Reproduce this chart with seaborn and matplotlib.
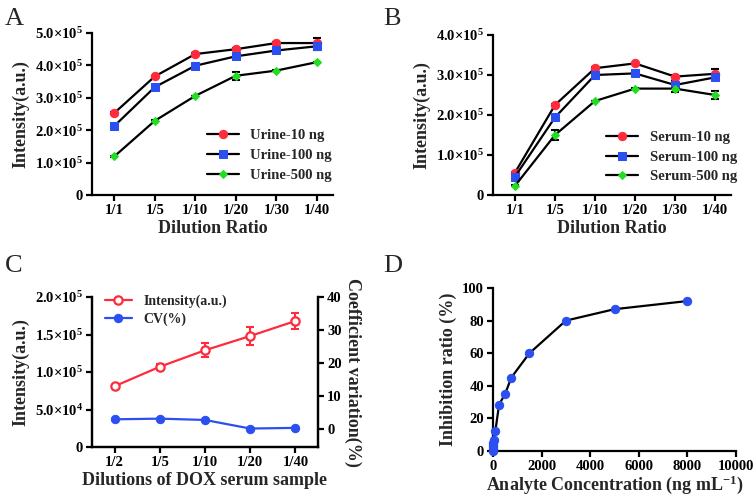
import numpy as np
import pandas as pd
import matplotlib
matplotlib.use("Agg")
import matplotlib.pyplot as plt
from matplotlib.ticker import FuncFormatter
import seaborn as sns

# Data
ratios_ab = ["1/1", "1/5", "1/10", "1/20", "1/30", "1/40"]

urine_10 = [2.53e5, 3.66e5, 4.35e5, 4.50e5, 4.69e5, 4.69e5]
urine_100 = [2.13e5, 3.33e5, 3.99e5, 4.28e5, 4.46e5, 4.59e5]
urine_500 = [1.19e5, 2.29e5, 3.06e5, 3.68e5, 3.84e5, 4.10e5]
urine_10_err = [0.02e5, 0.02e5, 0.02e5, 0.03e5, 0.02e5, 0.15e5]
urine_100_err = [0.02e5, 0.02e5, 0.02e5, 0.08e5, 0.02e5, 0.1e5]
urine_500_err = [0.01e5, 0.01e5, 0.01e5, 0.12e5, 0.02e5, 0.02e5]

serum_10 = [0.56e5, 2.25e5, 3.17e5, 3.29e5, 2.96e5, 3.03e5]
serum_100 = [0.46e5, 1.94e5, 3.00e5, 3.04e5, 2.75e5, 2.94e5]
serum_500 = [0.23e5, 1.50e5, 2.35e5, 2.66e5, 2.66e5, 2.50e5]
serum_10_err = [0.02e5, 0.02e5, 0.02e5, 0.02e5, 0.03e5, 0.12e5]
serum_100_err = [0.02e5, 0.02e5, 0.02e5, 0.02e5, 0.1e5, 0.03e5]
serum_500_err = [0.01e5, 0.12e5, 0.01e5, 0.01e5, 0.08e5, 0.1e5]

ratios_c = ["1/2", "1/5", "1/10", "1/20", "1/40"]
dox_intensity = [0.81e5, 1.07e5, 1.29e5, 1.48e5, 1.68e5]
dox_intensity_err = [0.02e5, 0.04e5, 0.095e5, 0.115e5, 0.11e5]
dox_cv = [2.9, 3.1, 2.7, 0.1, 0.3]

conc = [0, 5, 10, 20, 50, 100, 250, 500, 750, 1500, 3000, 5000, 8000]
inhibition = [0, 1.5, 3, 5, 7, 12.5, 28.5, 35, 45, 60, 80, 87, 92]

red = "#ff2a3c"
blue = "#2b4ff0"
green = "#22dd22"

sns.set_style("ticks")
plt.rcParams["font.family"] = ["Liberation Serif", "DejaVu Serif"]
plt.rcParams["font.weight"] = "bold"
plt.rcParams["axes.labelweight"] = "bold"
plt.rcParams["axes.linewidth"] = 1.6
plt.rcParams["xtick.major.width"] = 1.6
plt.rcParams["ytick.major.width"] = 1.6
plt.rcParams["xtick.major.size"] = 4
plt.rcParams["ytick.major.size"] = 4
plt.rcParams["xtick.major.pad"] = 2.5
plt.rcParams["ytick.major.pad"] = 2.5
plt.rcParams["xtick.color"] = "black"
plt.rcParams["ytick.color"] = "black"
plt.rcParams["axes.edgecolor"] = "black"
plt.rcParams["mathtext.fontset"] = "custom"
plt.rcParams["mathtext.rm"] = "Liberation Serif:bold"
plt.rcParams["mathtext.bf"] = "Liberation Serif:bold"
plt.rcParams["mathtext.default"] = "bf"


def sci_fmt(v, pos):
    if v == 0:
        return "0"
    e = int(np.floor(np.log10(abs(v))))
    m = v / 10 ** e
    return f"{m:.1f}" + r"$\times$" + "10" + f"$^{{{e}}}$"


fig = plt.figure(figsize=(7.56, 4.98), dpi=100)
W, H = 756, 498


def make_axes(l, r, t, b):
    return fig.add_axes([l / W, 1 - b / H, (r - l) / W, (b - t) / H])


def dilution_panel(ax, names, vals, errs, ymax, ystep, anchor):
    markers = ["o", "s", "D"]
    sizes = [6, 6, 4.5]
    colors = [red, blue, green]
    for name, v, e, m, ms, c in zip(names, vals, errs, markers, sizes, colors):
        df = pd.DataFrame({"ratio": ratios_ab, "val": v})
        sns.lineplot(data=df, x="ratio", y="val", ax=ax, color="black",
                     linewidth=1.6, marker=m, markersize=ms,
                     markerfacecolor=c, markeredgecolor=c, label=name,
                     sort=False, zorder=3)
        ax.errorbar(ratios_ab, v, yerr=e, fmt="none", ecolor="black",
                    elinewidth=1.5, capsize=3, capthick=1.5, zorder=2)
    ax.set_xlim(-0.55, 5.4)
    ax.set_ylim(0, ymax)
    ax.set_yticks(np.arange(0, ymax + 1, ystep))
    ax.yaxis.set_major_formatter(FuncFormatter(sci_fmt))
    ax.set_xlabel("Dilution Ratio", fontsize=13, labelpad=2)
    ax.set_ylabel("Intensity(a.u.)", fontsize=13)
    ax.tick_params(axis="y", labelsize=10.5)
    ax.tick_params(axis="x", labelsize=10.5)
    for lab in ax.get_xticklabels() + ax.get_yticklabels():
        lab.set_fontweight("bold")
    sns.despine(ax=ax)
    ax.legend(loc="lower right", bbox_to_anchor=anchor, frameon=False,
              handlelength=2.2, labelspacing=0.45,
              prop={"weight": "bold", "size": 10.5})


# Panel A
axA = make_axes(92, 333, 33, 195)
dilution_panel(axA, ["Urine-10 ng", "Urine-100 ng", "Urine-500 ng"],
               [urine_10, urine_100, urine_500],
               [urine_10_err, urine_100_err, urine_500_err], 5e5, 1e5,
               (1.05, 0.0))

# Panel B
axB = make_axes(493, 731, 35, 195)
dilution_panel(axB, ["Serum-10 ng", "Serum-100 ng", "Serum-500 ng"],
               [serum_10, serum_100, serum_500],
               [serum_10_err, serum_100_err, serum_500_err], 4e5, 1e5,
               (1.08, -0.01))

# Panel C
axC = make_axes(92, 318, 297, 447)
axC2 = axC.twinx()
df_c = pd.DataFrame({"ratio": ratios_c, "intensity": dox_intensity, "cv": dox_cv})
sns.lineplot(data=df_c, x="ratio", y="intensity", ax=axC, color=red,
             linewidth=1.6, marker="o", markersize=6, markerfacecolor="white",
             markeredgecolor=red, markeredgewidth=1.6, sort=False,
             label="Intensity(a.u.)", zorder=3)
axC.errorbar(ratios_c, dox_intensity, yerr=dox_intensity_err, fmt="none",
             ecolor=red, elinewidth=1.5, capsize=3, capthick=1.5, zorder=2)
sns.lineplot(data=df_c, x="ratio", y="cv", ax=axC2, color=blue,
             linewidth=1.6, marker="o", markersize=6, markerfacecolor=blue,
             markeredgecolor=blue, sort=False, label="CV(%)")
axC.set_xlim(-0.5, 4.5)
axC.set_ylim(0, 2e5)
axC.set_yticks(np.arange(0, 2.01e5, 0.5e5))
axC.yaxis.set_major_formatter(FuncFormatter(sci_fmt))
axC2.set_ylim(-5.5, 40)
axC2.set_yticks([0, 10, 20, 30, 40])
axC.set_xlabel("Dilutions of DOX serum sample", fontsize=13, labelpad=2)
axC.set_ylabel("Intensity(a.u.)", fontsize=13)
axC2.set_ylabel("Coefficient variation(%)", fontsize=13, rotation=270,
                labelpad=14)
axC.tick_params(axis="y", labelsize=10.5)
axC.tick_params(axis="x", labelsize=10.5)
axC2.tick_params(axis="y", labelsize=10.5)
for lab in axC.get_xticklabels() + axC.get_yticklabels() + axC2.get_yticklabels():
    lab.set_fontweight("bold")
axC.spines["top"].set_visible(False)
axC2.spines["top"].set_visible(False)
h1, l1 = axC.get_legend_handles_labels()
h2, l2 = axC2.get_legend_handles_labels()
if axC2.get_legend() is not None:
    axC2.get_legend().remove()
axC.legend(h1 + h2, l1 + l2, loc="upper left", bbox_to_anchor=(0.0, 1.1),
           frameon=False, handlelength=2.0, labelspacing=0.3,
           prop={"weight": "bold", "size": 10})

# Panel D
axD = make_axes(493, 736, 288, 451)
df_d = pd.DataFrame({"conc": conc, "inhibition": inhibition})
sns.lineplot(data=df_d, x="conc", y="inhibition", ax=axD, color="black",
             linewidth=1.6, marker="o", markersize=6, markerfacecolor=blue,
             markeredgecolor=blue, clip_on=False, zorder=3)
axD.set_xlim(0, 10000)
axD.set_ylim(0, 100)
axD.set_xticks(np.arange(0, 10001, 2000))
axD.set_yticks(np.arange(0, 101, 20))
axD.set_xlabel("Analyte Concentration (ng mL$^{-1}$)", fontsize=13, labelpad=0)
axD.set_ylabel("Inhibition ratio (%)", fontsize=13)
axD.tick_params(labelsize=10.5)
for lab in axD.get_xticklabels() + axD.get_yticklabels():
    lab.set_fontweight("bold")
sns.despine(ax=axD)

# Panel letters
for x, y, s in [(5, 8, "A"), (383, 8, "B"), (5, 255, "C"), (383, 255, "D")]:
    fig.text(x / W, 1 - y / H, s, fontsize=19, fontweight="normal",
             va="top", ha="left")

fig.savefig("out.png", dpi=100)
